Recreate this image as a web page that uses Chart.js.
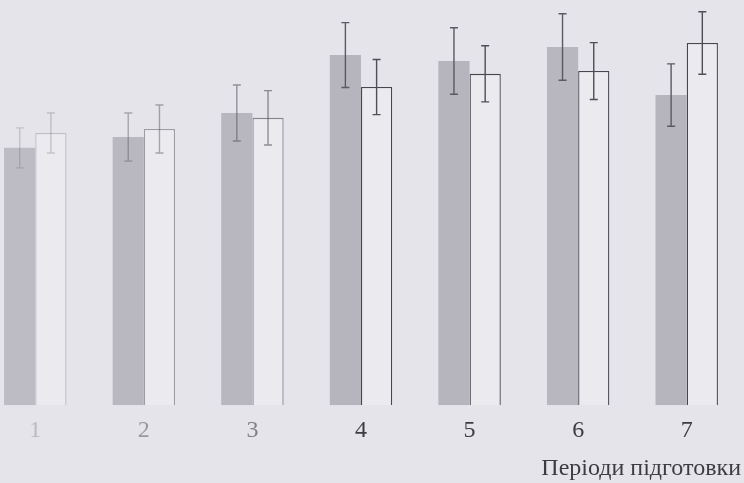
<!DOCTYPE html>
<html>
<head>
<meta charset="utf-8">
<script src="https://cdn.jsdelivr.net/npm/chart.js@4/dist/chart.umd.min.js"></script>
<style>
  html, body { margin: 0; padding: 0; width: 744px; height: 483px; overflow: hidden; background: #e4e4ea; }
  #wrap { position: absolute; left: -19px; top: 0; width: 760px; height: 483px; }
</style>
</head>
<body>
<div id="wrap"><canvas id="c"></canvas></div>
<script>
// Training periods
const periods = ['1', '2', '3', '4', '5', '6', '7'];
// Mean values of the two groups (shaded and open bars)
const shadedValues = [64.3, 67, 73, 87.5, 86, 89.5, 77.5];
const openValues   = [68, 69, 71.8, 79.5, 82.8, 83.5, 90.5];
// Standard deviations drawn as error bars
const shadedErr = [5, 6, 7, 8.1, 8.3, 8.3, 7.8];
const openErr   = [5, 6, 6.8, 6.9, 7, 7.1, 7.8];
const axisTitle = 'Періоди підготовки';

// Print on the left side of the page is washed out
const fade = [0.25, 0.45, 0.6, 1, 1, 1, 1];

const errorBars = {
  id: 'errorBars',
  afterDatasetsDraw(chart) {
    const ctx = chart.ctx;
    const y = chart.scales.y;
    chart.data.datasets.forEach((ds, di) => {
      const meta = chart.getDatasetMeta(di);
      const errs = ds.errors;
      meta.data.forEach((bar, i) => {
        const v = ds.data[i], e = errs[i];
        if (!e) return;
        const yt = y.getPixelForValue(v + e);
        const yb = y.getPixelForValue(v - e);
        const x = bar.x;
        ctx.save();
        ctx.globalAlpha = fade[i];
        ctx.strokeStyle = di === 0 ? '#5a5a62' : '#4e4e56';
        ctx.lineWidth = 1.4;
        ctx.beginPath();
        ctx.moveTo(x, yt); ctx.lineTo(x, yb);
        ctx.moveTo(x - 4, yt); ctx.lineTo(x + 4, yt);
        ctx.moveTo(x - 4, yb); ctx.lineTo(x + 4, yb);
        ctx.stroke();
        ctx.restore();
      });
    });
  }
};

new Chart(document.getElementById('c'), {
  type: 'bar',
  data: {
    labels: periods,
    datasets: [
      {
        data: shadedValues,
        errors: shadedErr,
        backgroundColor: ['#bdbcc4', '#b9b8c0', '#b8b7bf', '#b6b5bd', '#b6b5bd', '#b8b7bf', '#b6b5bd'],
        borderWidth: 0
      },
      {
        data: openValues,
        errors: openErr,
        backgroundColor: '#ebebef',
        borderColor: fade.map(a => 'rgba(70,70,78,' + a + ')'),
        borderWidth: 1.3,
        borderSkipped: 'bottom'
      }
    ]
  },
  options: {
    responsive: true,
    maintainAspectRatio: false,
    animation: false,
    layout: { padding: { top: 5, left: 0, right: 0, bottom: 0 } },
    plugins: { legend: { display: false }, tooltip: { enabled: false } },
    datasets: { bar: { categoryPercentage: 0.575, barPercentage: 1.0 } },
    scales: {
      x: {
        grid: { display: false, drawTicks: false },
        border: { display: false },
        ticks: {
          padding: 11,
          font: { family: 'Liberation Serif', size: 24 },
          color: ctx => 'rgba(60,60,66,' + fade[ctx.index] + ')'
        },
        title: {
          display: true,
          text: axisTitle,
          align: 'end',
          font: { family: 'Liberation Serif', size: 24, lineHeight: 1 },
          color: '#3c3c42',
          padding: { top: 1, bottom: 2 }
        }
      },
      y: {
        display: false,
        min: 0,
        max: 100
      }
    }
  },
  plugins: [errorBars]
});
</script>
</body>
</html>
